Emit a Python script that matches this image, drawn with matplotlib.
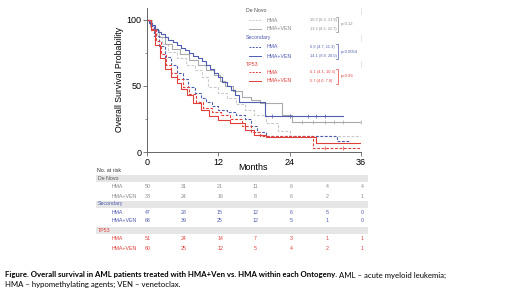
import matplotlib
matplotlib.use("Agg")
import matplotlib.pyplot as plt
from matplotlib.lines import Line2D
from matplotlib.patches import Rectangle

plt.rcParams["font.family"] = ["Liberation Sans", "DejaVu Sans"]

W, H = 520, 292

GRAY_D, GRAY_L = "#a9a9a9", "#c9c9c9"
BLUE = "#4f5cb0"
RED = "#e0403c"

# Kaplan-Meier step curves (months, % surviving)
dn_hma_t = [0, 0.8, 1.6, 2.6, 3.6, 5.0, 6.5, 8.0, 9.2, 10.3, 12.0, 13.5, 15.0, 16.5, 18.0, 20.0, 22.0, 24.0, 36]
dn_hma_s = [100, 94, 88, 82, 76, 71, 66, 62, 57, 49, 45, 41, 36, 32, 28, 22, 16, 12, 12]
dn_hv_t = [0, 0.5, 1.2, 2.0, 3.0, 4.2, 5.5, 7.0, 8.5, 10.0, 11.2, 12.2, 13.2, 14.5, 16.0, 17.5, 19.0, 22.7, 24.4, 36]
dn_hv_s = [100, 96, 92, 87, 82, 78, 74, 70, 66, 62, 58, 54, 50, 46, 42, 39, 37, 28, 23, 23]
sec_hma_t = [0, 0.5, 1.2, 2.0, 3.0, 4.0, 5.0, 6.0, 6.9, 8.0, 9.0, 10.0, 11.0, 12.0, 13.5, 15.0, 16.5, 17.5, 18.5, 20.0, 32.0, 34.0]
sec_hma_s = [100, 95, 88, 80, 72, 66, 60, 55, 49, 45, 41, 38, 35, 32, 30, 28, 25, 20, 15, 12, 8, 8]
sec_hv_t = [0, 0.4, 0.8, 1.3, 1.8, 2.4, 3.0, 3.6, 4.3, 5.0, 5.7, 6.4, 7.1, 7.8, 8.5, 9.2, 9.9, 10.6, 11.3, 12.0, 12.7, 13.4, 14.1, 14.8, 15.5, 19.8, 33.0]
sec_hv_s = [100, 98, 96, 93, 91, 89, 87, 85, 83, 81, 79, 77, 75, 73, 71, 69, 66, 63, 60, 57, 53, 50, 47, 43, 38, 27, 27]
tp_hma_t = [0, 0.7, 1.5, 2.3, 3.2, 4.0, 5.0, 6.1, 7.0, 8.3, 9.5, 11.0, 12.5, 14.0, 16.0, 17.5, 19.0, 28.0, 36]
tp_hma_s = [100, 93, 84, 74, 66, 60, 55, 49, 44, 38, 33, 30, 28, 25, 20, 15, 12, 3, 3]
tp_hv_t = [0, 0.6, 1.4, 2.2, 3.0, 4.0, 5.0, 5.7, 6.7, 7.8, 9.0, 10.5, 12.0, 14.0, 16.5, 18.0, 20.0, 28.5, 36]
tp_hv_s = [100, 92, 81, 71, 63, 57, 52, 48, 43, 37, 32, 27, 24, 22, 17, 13, 11, 7, 7]

# censor ticks
dn_hv_cens = [26, 28, 30, 31.5, 33, 36]
sec_hv_cens = [21, 24, 27, 28.5, 30]
tp_hma_cens = [30, 33]

curves = [
    (dn_hma_t, dn_hma_s, GRAY_L, "--", []),
    (dn_hv_t, dn_hv_s, GRAY_D, "-", dn_hv_cens),
    (sec_hma_t, sec_hma_s, BLUE, "--", []),
    (sec_hv_t, sec_hv_s, BLUE, "-", sec_hv_cens),
    (tp_hma_t, tp_hma_s, RED, "--", tp_hma_cens),
    (tp_hv_t, tp_hv_s, RED, "-", []),
]

# legend content
groups = ["De Novo", "Secondary", "TP53"]
group_colors = ["#555555", BLUE, RED]
arm_colors = ["#888888", BLUE, RED]
medians = [["10.3 (6.3, 13.9)", "13.2 (8.3, 22.7)"],
           ["6.9 (4.7, 11.3)", "14.1 (8.9, 20.0)"],
           ["6.1 (4.1, 10.3)", "5.7 (4.0, 7.8)"]]
pvals = ["p=0.12", "p=0.0054", "p=0.93"]
arms = ["HMA", "HMA+VEN"]

# numbers at risk
risk_times = [0, 6, 12, 18, 24, 30, 36]
risk = [[[50, 31, 21, 11, 6, 4, 4], [38, 24, 16, 8, 6, 2, 1]],
        [[47, 28, 15, 12, 6, 5, 0], [68, 39, 25, 12, 5, 1, 0]],
        [[51, 24, 14, 7, 3, 1, 1], [60, 25, 12, 5, 4, 2, 1]]]


def fx(x):
    return x / W


def fy(y):
    return 1 - y / H


fig = plt.figure(figsize=(W / 100, H / 100), dpi=100)

# main KM axes: x 147..361 px, y 0 at 152 px, top at 8 px
ax = fig.add_axes([fx(147), fy(152), (361 - 147) / W, (152 - 8) / H])
for t, s, c, ls, cens in curves:
    ax.step(t, s, where="post", color=c, ls=ls, lw=0.8,
            dashes=(2.5, 1.5) if ls == "--" else (None, None))
    for ct in cens:
        v = s[0]
        for ti, si in zip(t, s):
            if ti <= ct:
                v = si
        ax.plot([ct], [v], marker="|", ms=3, mew=0.5, color=c)

ax.set_xlim(0, 36)
ax.set_ylim(0, 109)
ax.set_xticks([0, 12, 24, 36])
ax.set_yticks([0, 50, 100])
ax.set_yticks([25, 75], minor=True)
for sp in ["top", "right"]:
    ax.spines[sp].set_visible(False)
for sp in ["left", "bottom"]:
    ax.spines[sp].set_color("#666666")
    ax.spines[sp].set_linewidth(0.7)
ax.tick_params(axis="both", which="major", length=3, width=0.6, color="#666666",
               labelsize=6.5, pad=1)
ax.tick_params(axis="y", which="minor", length=1.5, width=0.5, color="#666666")
ax.set_ylabel("Overall Survival Probability", fontsize=6.3, labelpad=2)
fig.text(fx(253), fy(168), "Months", fontsize=6.5, ha="center", va="center")


def band(x0, x1, yc, h=8):
    fig.add_artist(Rectangle((fx(x0), fy(yc + h / 2)), (x1 - x0) / W, h / H,
                             transform=fig.transFigure, color="#e6e6e6", lw=0, zorder=0))


# legend box at top right
leg_rows = [(11, 20, 29), (38, 47, 56), (64, 72, 81)]
for gi, g in enumerate(groups):
    hy, y1, y2 = leg_rows[gi]
    band(243, 362, hy, 7)
    fig.text(fx(246), fy(hy), g, fontsize=3.8, color=group_colors[gi], va="center")
    for ai, yy in enumerate([y1, y2]):
        c = GRAY_L if (gi == 0 and ai == 0) else (GRAY_D if gi == 0 else arm_colors[gi])
        ls = "--" if ai == 0 else "-"
        fig.add_artist(Line2D([fx(249), fx(261)], [fy(yy), fy(yy)], transform=fig.transFigure,
                              color=c, lw=0.7, ls=ls, dashes=(2, 1.3) if ai == 0 else (None, None)))
        fig.text(fx(267), fy(yy), arms[ai], fontsize=3.8, color=arm_colors[gi], va="center")
        fig.text(fx(310), fy(yy), medians[gi][ai], fontsize=2.8,
                 color=arm_colors[gi], va="center")
    bx = 338
    fig.add_artist(Line2D([fx(bx - 2), fx(bx), fx(bx), fx(bx - 2)],
                          [fy(y1 - 3), fy(y1 - 3), fy(y2 + 3), fy(y2 + 3)],
                          transform=fig.transFigure, color=arm_colors[gi], lw=0.5))
    fig.text(fx(341), fy((y1 + y2) / 2), pvals[gi], fontsize=3.0,
             color=arm_colors[gi], va="center")

# risk table
col_x = [148, 184, 220, 255, 291, 327, 362]
fig.text(fx(97), fy(171), "No. at risk", fontsize=3.8, color="#333333", va="center")
tab_rows = [(178, 186, 196), (204, 212, 221), (230, 239, 248)]
for gi, g in enumerate(groups):
    hy, y1, y2 = tab_rows[gi]
    band(96, 368, hy, 7)
    fig.text(fx(98), fy(hy), g, fontsize=3.8, color=group_colors[gi], va="center")
    for ai, yy in enumerate([y1, y2]):
        fig.text(fx(112), fy(yy), arms[ai], fontsize=3.8, color=arm_colors[gi], va="center")
        for xi, n in zip(col_x, risk[gi][ai]):
            fig.text(fx(xi), fy(yy), str(n), fontsize=3.8, color=arm_colors[gi],
                     ha="center", va="center")

# caption
cap_font = ["Lato", "DejaVu Sans"]
t1 = fig.text(fx(5), fy(275), "Figure. Overall survival in AML patients treated with HMA+Ven vs. HMA within each Ontogeny.",
              fontsize=5.6, fontweight="bold", family=cap_font, va="center")
fig.canvas.draw()
bb = t1.get_window_extent()
fig.text(bb.x1 / W + fx(2), fy(275), "AML \u2013 acute myeloid leukemia;",
         fontsize=5.6, family=cap_font, va="center")
fig.text(fx(5), fy(284), "HMA \u2013 hypomethylating agents; VEN \u2013 venetoclax.",
         fontsize=5.6, family=cap_font, va="center")

fig.savefig("out.png", dpi=100)
